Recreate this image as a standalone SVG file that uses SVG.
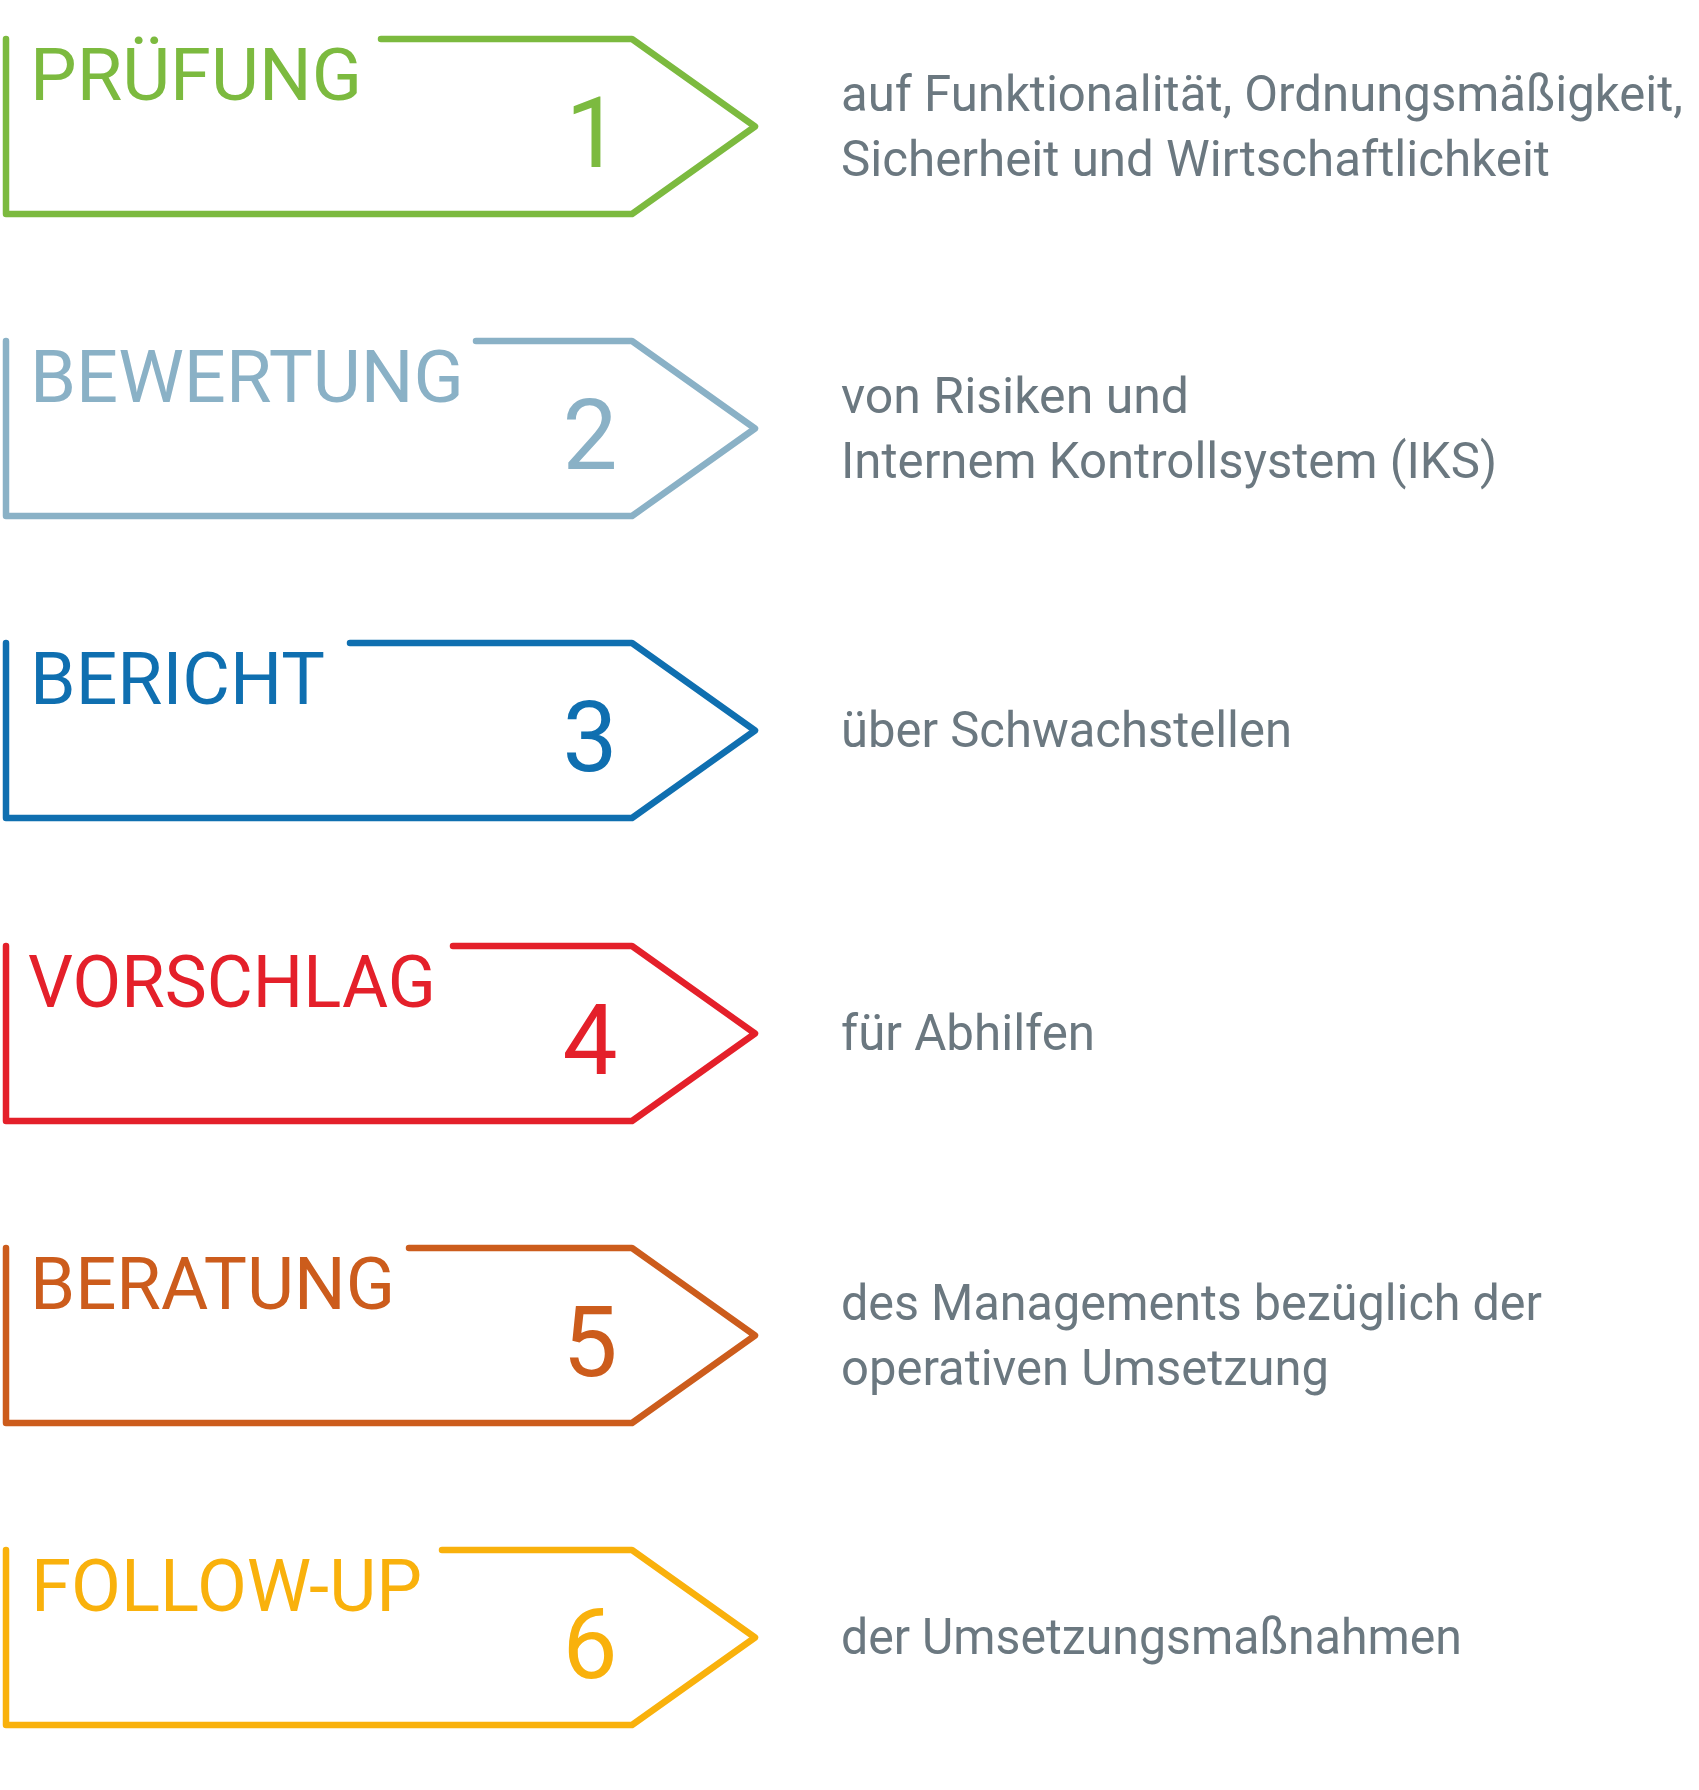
<svg xmlns="http://www.w3.org/2000/svg" width="1699" height="1790" viewBox="0 0 1699 1790">
<style>
  .box { fill: none; stroke-width: 6.5; stroke-linejoin: round; stroke-linecap: round; }
  .title { font-family: Roboto, "Liberation Sans", sans-serif; font-size: 73px; }
  .num { font-family: Roboto, "Liberation Sans", sans-serif; font-size: 98px; text-anchor: middle; }
  .desc { font-family: Roboto, "Liberation Sans", sans-serif; font-size: 50px; fill: #6b7880; }
  .c1 { stroke: #7cba3f; } .f1 { fill: #7cba3f; }
  .c2 { stroke: #8ab1c6; } .f2 { fill: #8ab1c6; }
  .c3 { stroke: #0f6fb0; } .f3 { fill: #0f6fb0; }
  .c4 { stroke: #e4202a; } .f4 { fill: #e4202a; }
  .c5 { stroke: #cc5c1c; } .f5 { fill: #cc5c1c; }
  .c6 { stroke: #f9b10c; } .f6 { fill: #f9b10c; }
</style>
<rect width="1699" height="1790" fill="#ffffff"/>

<g id="node-pruefung">
  <path class="box c1" d="M381,39 L632,39 L755,126.5 L632,214 L6,214 L6,39"/>
  <text class="title f1" x="30" y="100" textLength="332" lengthAdjust="spacingAndGlyphs">PRÜFUNG</text>
  <text class="num f1" x="593" y="167">1</text>
  <text class="desc" x="841" y="111" textLength="842" lengthAdjust="spacingAndGlyphs">auf Funktionalität, Ordnungsmäßigkeit,</text>
  <text class="desc" x="841" y="176" textLength="709" lengthAdjust="spacingAndGlyphs">Sicherheit und Wirtschaftlichkeit</text>
</g>

<g id="node-bewertung" transform="translate(0,302)">
  <path class="box c2" d="M476,39 L632,39 L755,126.5 L632,214 L6,214 L6,39"/>
  <text class="title f2" x="30" y="100" textLength="434" lengthAdjust="spacingAndGlyphs">BEWERTUNG</text>
  <text class="num f2" x="590" y="167">2</text>
  <text class="desc" x="841" y="111" textLength="348" lengthAdjust="spacingAndGlyphs">von Risiken und</text>
  <text class="desc" x="841" y="176" textLength="656" lengthAdjust="spacingAndGlyphs">Internem Kontrollsystem (IKS)</text>
</g>

<g id="node-bericht" transform="translate(0,604)">
  <path class="box c3" d="M350,39 L632,39 L755,126.5 L632,214 L6,214 L6,39"/>
  <text class="title f3" x="30" y="100" textLength="295" lengthAdjust="spacingAndGlyphs">BERICHT</text>
  <text class="num f3" x="590" y="167">3</text>
  <text class="desc" x="841" y="143" textLength="451" lengthAdjust="spacingAndGlyphs">über Schwachstellen</text>
</g>

<g id="node-vorschlag" transform="translate(0,907)">
  <path class="box c4" d="M453,39 L632,39 L755,126.5 L632,214 L6,214 L6,39"/>
  <text class="title f4" x="28" y="100" textLength="408" lengthAdjust="spacingAndGlyphs">VORSCHLAG</text>
  <text class="num f4" x="590" y="167">4</text>
  <text class="desc" x="841" y="143" textLength="254" lengthAdjust="spacingAndGlyphs">für Abhilfen</text>
</g>

<g id="node-beratung" transform="translate(0,1209)">
  <path class="box c5" d="M409,39 L632,39 L755,126.5 L632,214 L6,214 L6,39"/>
  <text class="title f5" x="30" y="100" textLength="365" lengthAdjust="spacingAndGlyphs">BERATUNG</text>
  <text class="num f5" x="590" y="167">5</text>
  <text class="desc" x="841" y="111" textLength="701" lengthAdjust="spacingAndGlyphs">des Managements bezüglich der</text>
  <text class="desc" x="841" y="176" textLength="488" lengthAdjust="spacingAndGlyphs">operativen Umsetzung</text>
</g>

<g id="node-followup" transform="translate(0,1511)">
  <path class="box c6" d="M442,39 L632,39 L755,126.5 L632,214 L6,214 L6,39"/>
  <text class="title f6" x="31" y="100" textLength="391" lengthAdjust="spacingAndGlyphs">FOLLOW-UP</text>
  <text class="num f6" x="590" y="167">6</text>
  <text class="desc" x="841" y="143" textLength="621" lengthAdjust="spacingAndGlyphs">der Umsetzungsmaßnahmen</text>
</g>

<g id="connectors"></g>
</svg>
